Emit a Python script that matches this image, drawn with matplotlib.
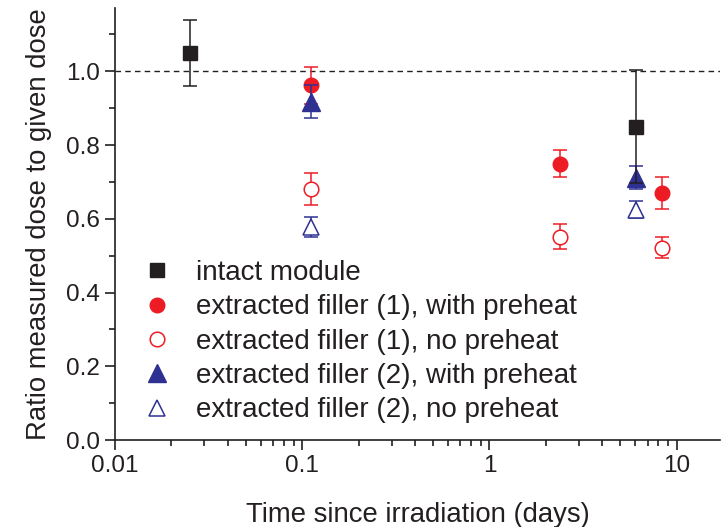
import numpy as np
import matplotlib
matplotlib.use('Agg')
import matplotlib.pyplot as plt
from matplotlib.lines import Line2D
from matplotlib.ticker import MultipleLocator, LogLocator, NullFormatter

plt.rcParams['font.family'] = ['Liberation Sans', 'DejaVu Sans']

# data
t_intact = [0.025, 6.1]
r_intact = [1.05, 0.85]
e_intact = [0.09, 0.153]

t_f1 = [0.111, 2.38, 8.36]
r_f1_pre = [0.962, 0.75, 0.67]
e_f1_pre = [0.05, 0.037, 0.043]
r_f1_nopre = [0.68, 0.552, 0.522]
e_f1_nopre = [0.043, 0.033, 0.028]

t_f2 = [0.111, 6.1]
r_f2_pre = [0.918, 0.712]
e_f2_pre = [0.045, 0.03]
r_f2_nopre = [0.578, 0.625]
e_f2_nopre = [0.028, 0.024]

labels = ['intact module',
          'extracted filler (1), with preheat',
          'extracted filler (1), no preheat',
          'extracted filler (2), with preheat',
          'extracted filler (2), no preheat']

black = '#231f20'
red = '#ed1c24'
blue = '#2e3192'

fig = plt.figure(figsize=(7.24, 5.27), dpi=100)
ax = fig.add_axes([0.159, 0.165, 0.835, 0.82])

ax.axhline(1.0, color=black, ls=(0, (4, 3)), lw=1.0, zorder=1)

eb = dict(capsize=5, capthick=1.1, elinewidth=1.1, ls='none')

ax.errorbar(t_f2, r_f2_nopre, yerr=e_f2_nopre, marker='^', ms=12,
            mfc='white', mec=blue, mew=1.1, color=blue, zorder=3, **eb)
ax.errorbar(t_f1, r_f1_nopre, yerr=e_f1_nopre, marker='o', ms=10.5,
            mfc='white', mec=red, mew=1.1, color=red, zorder=3, **eb)
ax.errorbar(t_f1, r_f1_pre, yerr=e_f1_pre, marker='o', ms=10.5,
            mfc=red, mec=red, color=red, zorder=4, **eb)
ax.errorbar(t_f2, r_f2_pre, yerr=e_f2_pre, marker='^', ms=12.5,
            mfc=blue, mec=blue, color=blue, zorder=5, **eb)
ax.errorbar(t_intact, r_intact, yerr=e_intact, marker='s', ms=10,
            mfc=black, mec=black, color=black, zorder=6, **eb)

ax.set_xscale('log')
ax.set_xlim(0.01, 17)
ax.set_ylim(0, 1.172)

ax.yaxis.set_minor_locator(MultipleLocator(0.1))
ax.set_yticks(np.arange(0, 1.01, 0.2))
ax.set_yticklabels(['0.0', '0.2', '0.4', '0.6', '0.8', '1.0'])
ax.set_xticks([0.01, 0.1, 1, 10])
ax.set_xticklabels(['0.01', '0.1', '1', '10'])
ax.xaxis.set_minor_locator(LogLocator(base=10, subs=np.arange(2, 10), numticks=20))
ax.xaxis.set_minor_formatter(NullFormatter())

ax.tick_params(which='major', direction='out', length=7, width=1.2,
               labelsize=17.5, colors=black, pad=4)
ax.tick_params(which='minor', direction='out', length=4, width=1.2, colors=black)

for s in ['top', 'right']:
    ax.spines[s].set_visible(False)
for s in ['left', 'bottom']:
    ax.spines[s].set_linewidth(1.2)
    ax.spines[s].set_color(black)

ax.set_xlabel('Time since irradiation (days)', fontsize=19.8, color=black, labelpad=18)
ax.set_ylabel('Ratio measured dose to given dose', fontsize=19.8, color=black, labelpad=10)

handles = [
    Line2D([], [], ls='none', marker='s', ms=10, mfc=black, mec=black),
    Line2D([], [], ls='none', marker='o', ms=10.5, mfc=red, mec=red),
    Line2D([], [], ls='none', marker='o', ms=10.5, mfc='white', mec=red, mew=1.1),
    Line2D([], [], ls='none', marker='^', ms=12.5, mfc=blue, mec=blue),
    Line2D([], [], ls='none', marker='^', ms=12, mfc='white', mec=blue, mew=1.1),
]
leg = ax.legend(handles, labels, loc='upper left',
                bbox_to_anchor=(143 / 724, 1 - 260 / 527),
                bbox_transform=fig.transFigure, frameon=False, fontsize=20,
                handlelength=1.0, handletextpad=0.9, labelspacing=0.3,
                borderpad=0, borderaxespad=0)
for txt in leg.get_texts():
    txt.set_color(black)

fig.savefig('out.png', dpi=100)
